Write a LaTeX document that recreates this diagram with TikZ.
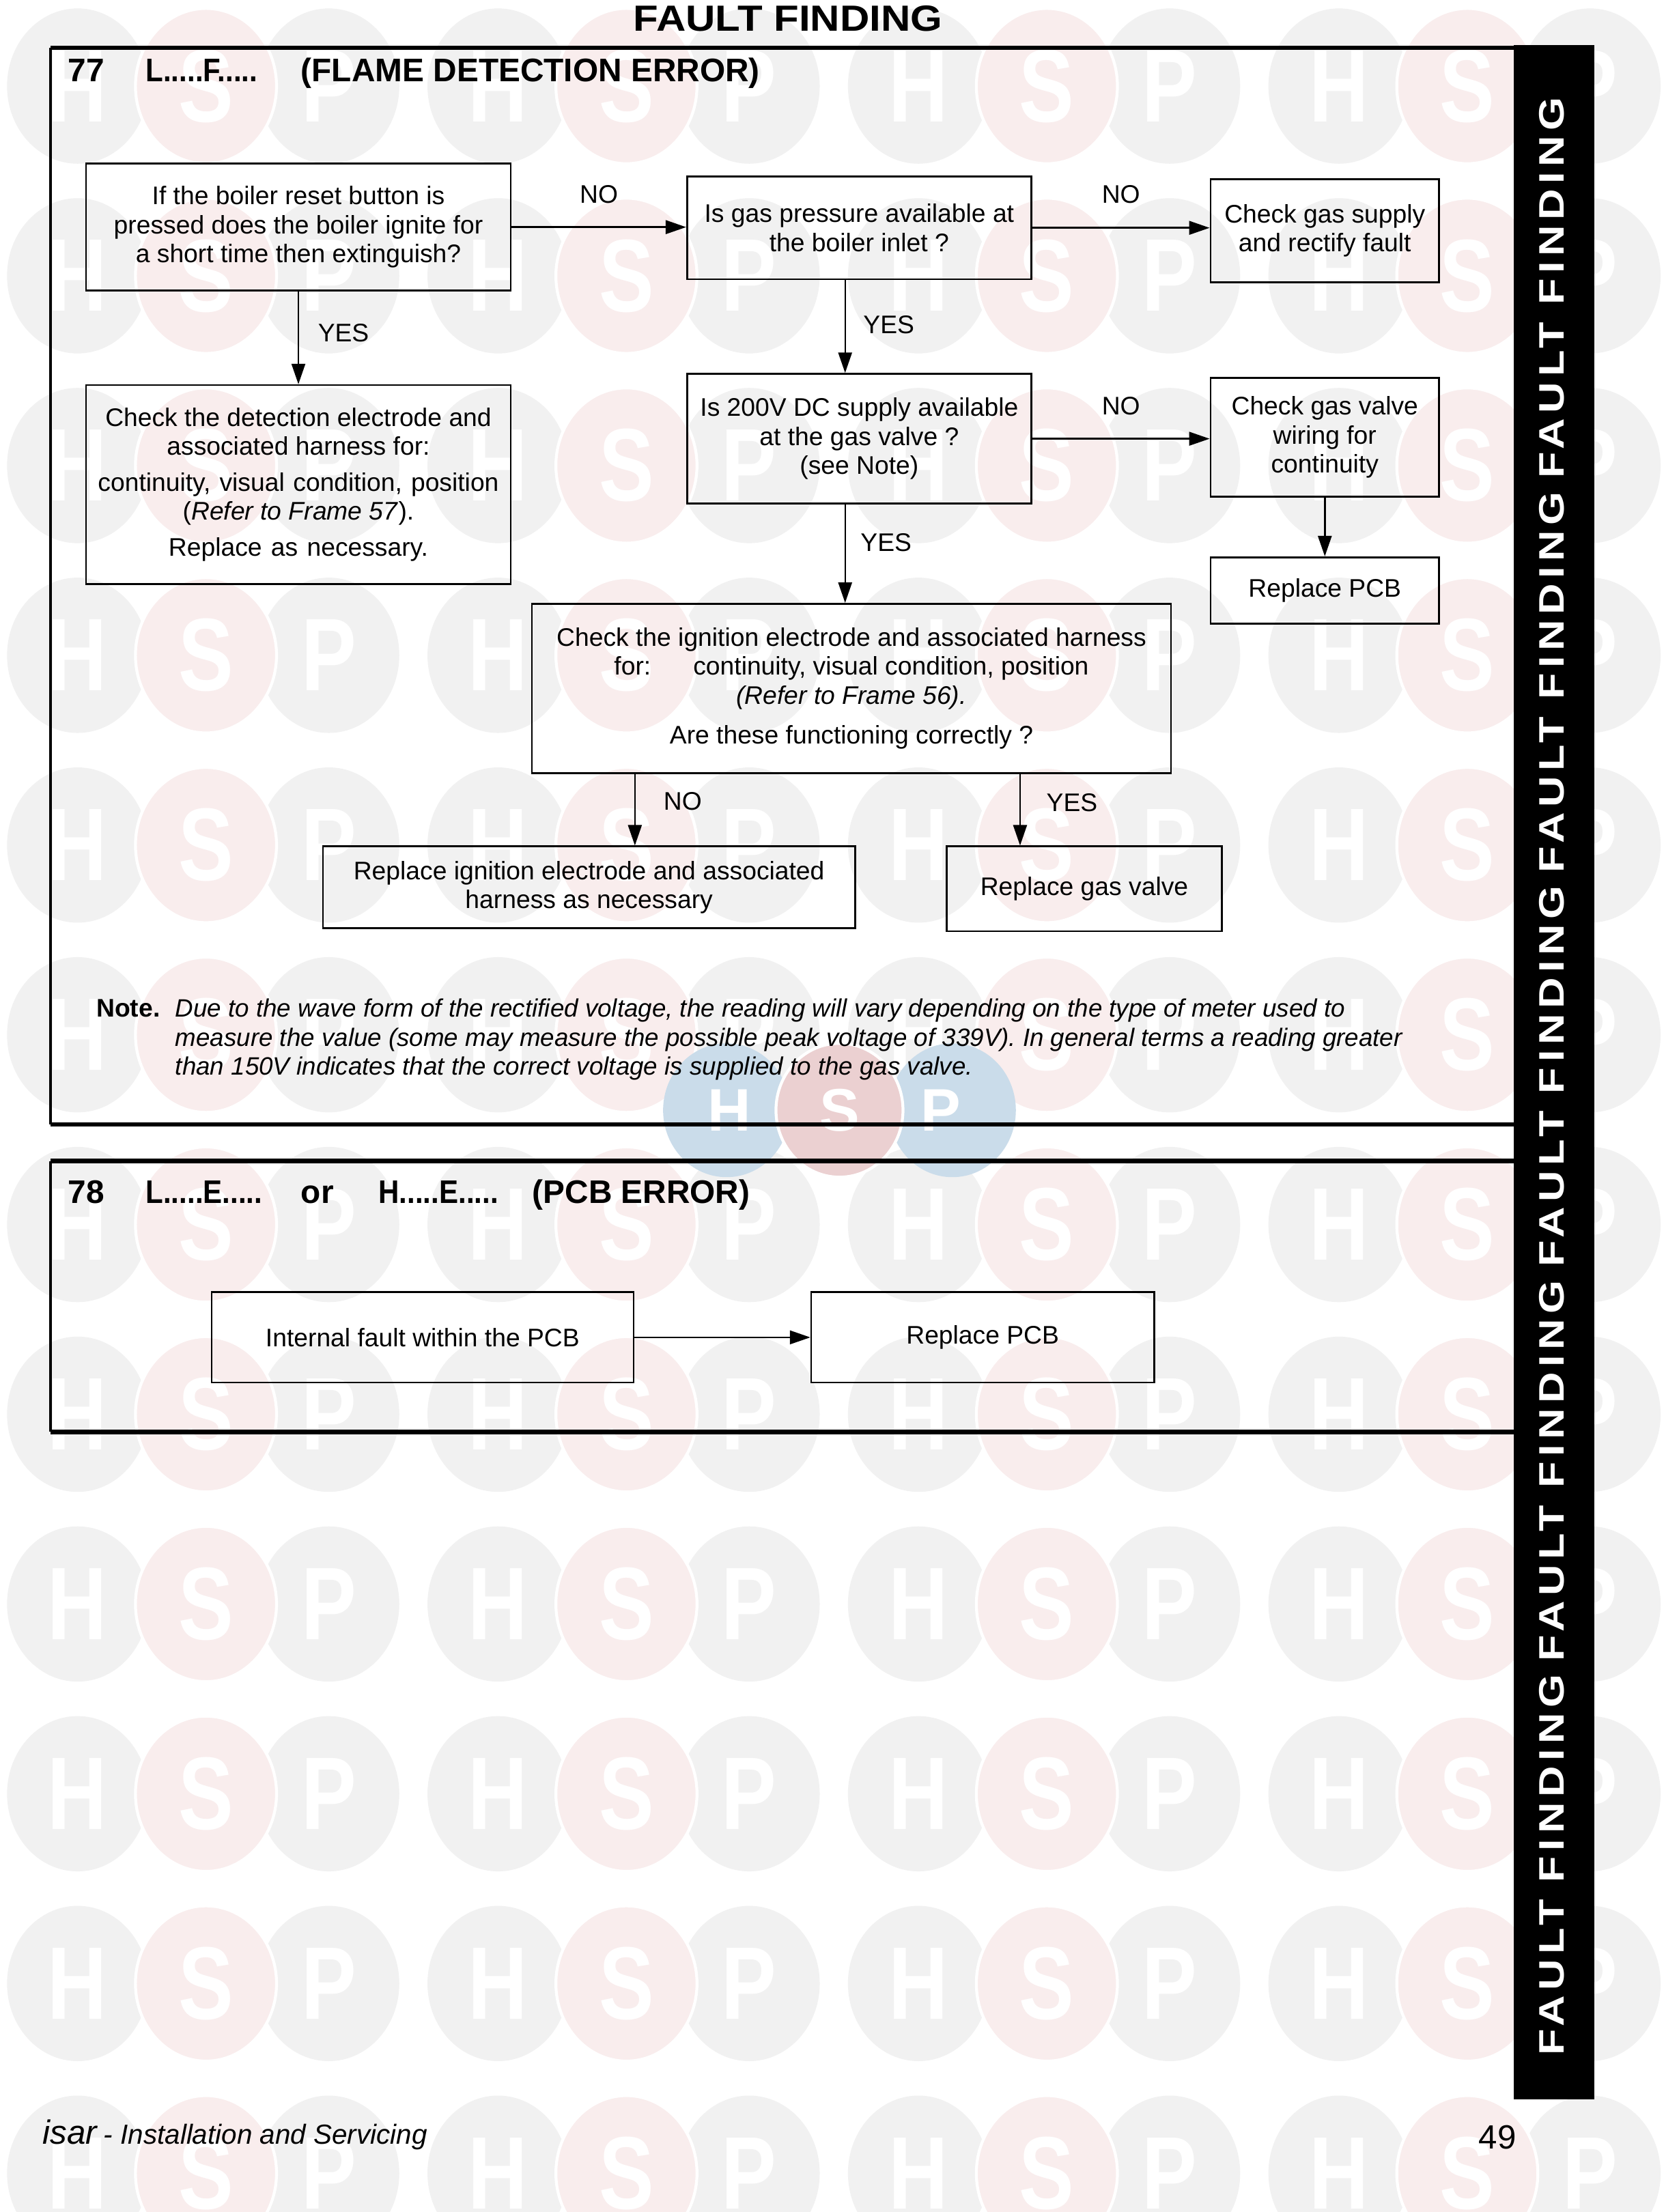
\documentclass[tikz,border=0pt]{standalone}
\usepackage{fontspec}
\usepackage{graphicx}
\setmainfont{Liberation Sans}
\newfontfamily\barfont[LetterSpace=12]{Liberation Sans}
\usetikzlibrary{arrows.meta,positioning,calc}
\definecolor{wmgrey}{HTML}{F1F1F1}
\definecolor{wmpink}{HTML}{F9EDED}
\definecolor{wmblue}{HTML}{CADCEA}
\definecolor{wmred}{HTML}{EBD0D1}
\newcommand\bodyfont{\fontsize{10.6}{12.1}\selectfont}
\newcommand\notefont{\fontsize{10.45}{12.1}\selectfont}
\newcommand\headfont{\fontsize{13.6}{16}\selectfont\bfseries}
\newcommand\wmfont{\fontsize{43}{43}\selectfont\bfseries}
\newcommand\wmsmall{\fontsize{25}{25}\selectfont\bfseries}
\newcommand\squeeze[1]{\scalebox{0.8}[1]{#1}}

\begin{document}
\begin{tikzpicture}[x=0.020664cm,y=-0.020664cm]
\tikzset{
  box/.style={draw,line width=0.75pt,inner sep=0pt,align=center,font=\bodyfont},
  arr/.style={-{Triangle[length=0.30cm,width=0.20cm]},line width=0.7pt},
  lbl/.style={font=\bodyfont,inner sep=0pt},
  frameh/.style={line width=1.8pt},
  framev/.style={line width=1.1pt},
  head/.style={anchor=base west,inner sep=0pt,font=\headfont},
  wmell/.style={x radius=1.033cm,y radius=1.137cm},
  wmlet/.style={text=white,inner sep=0pt,font=\wmfont}
}
\useasboundingbox (0,0) rectangle (1190,1568);
\fill[white] (0,0) rectangle (1190,1568);

% watermark
\foreach \r in {0,...,11}{
  \foreach \g in {0,...,3}{
    \pgfmathsetmacro\wy{61+134.5*\r}
    \pgfmathsetmacro\wx{55+298*\g}
    \fill[wmgrey,wmell] (\wx,\wy) circle;
    \fill[wmgrey,wmell] (\wx+178,\wy) circle;
    \filldraw[fill=wmpink,draw=white,line width=1.2pt,wmell] (\wx+91,\wy) circle;
    \node[wmlet] (wmh-\r-\g) at (\wx,\wy) {\squeeze{H}};
    \node[wmlet] (wms-\r-\g) at (\wx+91,\wy) {\squeeze{S}};
    \node[wmlet] (wmp-\r-\g) at (\wx+178,\wy) {\squeeze{P}};
  }
}
\fill[wmblue,x radius=0.93cm,y radius=0.98cm] (515,787) circle;
\fill[wmblue,x radius=0.93cm,y radius=0.98cm] (675,787) circle;
\filldraw[fill=wmred,draw=white,line width=1.2pt,x radius=0.93cm,y radius=0.98cm] (595,787) circle;
\node[wmlet,font=\wmsmall] (logoh) at (517,787) {H};
\node[wmlet,font=\wmsmall] (logos) at (595,787) {S};
\node[wmlet,font=\wmsmall] (logop) at (667,787) {P};

% side bar
\fill[black] (1073,32) rectangle (1130,1488);
\foreach \k in {0,...,4}
  \node[text=white,inner sep=0pt,rotate=90] (side-\k) at (1100,1322-279.5*\k)
    {\resizebox{5.58cm}{0.362cm}{\barfont\bfseries FAULT FINDING}};

% title
\node[inner sep=0pt] (title) at (558.5,13) {\resizebox{4.525cm}{0.372cm}{\bfseries FAULT FINDING}};

% frame 77
\draw[frameh] (36,34) -- (1073,34);
\draw[framev] (36,34) -- (36,797);
\draw[frameh] (36,797) -- (1073,797);
\node[head] (h77) at (48,58) {77};
\node[head] (h77code) at (103,58) {\scalebox{0.88}[1]{L.....F.....}};
\node[head] (h77name) at (213,58) {(FLAME DETECTION ERROR)};

\node[box,minimum width=6.22cm,minimum height=1.86cm] (qreset) at (211.5,161)
  {If the boiler reset button is\\pressed does the boiler ignite for\\a short time then extinguish?};
\node[box,minimum width=5.042cm,minimum height=1.508cm] (qgas) at (609,161.5)
  {Is gas pressure available at\\the boiler inlet ?};
\node[box,minimum width=3.348cm,minimum height=1.508cm] (chkgas) at (939,163.5)
  {Check gas supply\\and rectify fault};
\node[box,minimum width=6.22cm,minimum height=2.914cm] (chkdet) at (211.5,343.5)
  {Check the detection electrode and\\associated harness for:\\[2.9pt]
   \makebox[5.87cm][s]{continuity, visual condition, position}\\(\textit{Refer to Frame 57}).\\[2.9pt]
   \makebox[3.8cm][s]{Replace as necessary.}};
\node[box,minimum width=5.042cm,minimum height=1.901cm] (qdc) at (609,311)
  {Is 200V DC supply available\\at the gas valve ?\\(see Note)};
\node[box,minimum width=3.348cm,minimum height=1.736cm] (chkwiring) at (939,310)
  {Check gas valve\\wiring for\\continuity};
\node[box,minimum width=3.348cm,minimum height=0.971cm] (pcbA) at (939,418.5) {Replace PCB};
\node[box,minimum width=9.361cm,minimum height=2.48cm] (chkign) at (603.5,488)
  {Check the ignition electrode and associated harness\\
   for:\hspace{0.62cm}continuity, visual condition, position\\
   \textit{(Refer to Frame 56).}\\[4.5pt]
   Are these functioning correctly ?};
\node[box,minimum width=7.79cm,minimum height=1.199cm] (repign) at (417.5,629)
  {Replace ignition electrode and associated\\harness as necessary};
\node[box,minimum width=4.029cm,minimum height=1.24cm] (repvalve) at (768.5,630) {Replace gas valve};

\draw[arr] (qreset.east) -- (qreset.east -| qgas.west) node[lbl,midway,yshift=0.48cm] {NO};
\draw[arr] (qgas.east) -- (qgas.east -| chkgas.west) node[lbl,midway,yshift=0.49cm] {NO};
\draw[arr] (qreset.south) -- (chkdet.north) node[lbl,midway,xshift=0.66cm,yshift=0.07cm] {YES};
\coordinate (gasyes) at ($(qgas.south)+(-10,0)$);
\draw[arr] (gasyes) -- (gasyes |- qdc.north) node[lbl,midway,xshift=0.64cm,yshift=0.03cm] {YES};
\draw[arr] (qdc.east) -- (qdc.east -| chkwiring.west) node[lbl,midway,yshift=0.48cm] {NO};
\draw[arr] (chkwiring) -- (pcbA);
\coordinate (dcyes) at ($(qdc.south)+(-10,0)$);
\draw[arr] (dcyes) -- (dcyes |- chkign.north) node[lbl,midway,xshift=0.60cm,yshift=0.16cm] {YES};
\coordinate (ignno) at ($(chkign.south)+(-153.5,0)$);
\draw[arr] (ignno) -- (ignno |- repign.north) node[lbl,midway,xshift=0.70cm,yshift=0.12cm] {NO};
\coordinate (ignyes) at ($(chkign.south)+(119.5,0)$);
\draw[arr] (ignyes) -- (ignyes |- repvalve.north) node[lbl,midway,xshift=0.76cm,yshift=0.10cm] {YES};

% note (base is the last line)
\node[anchor=base west,inner sep=0pt,font=\bodyfont\bfseries] (notehd) at (68,721) {Note.};
\node[anchor=base west,inner sep=0pt,font=\notefont\itshape,align=left] (notetxt) at (124,762)
  {Due to the wave form of the rectified voltage, the reading will vary depending on the type of meter used to\\
   measure the value (some may measure the possible peak voltage of 339V). In general terms a reading greater\\
   than 150V indicates that the correct voltage is supplied to the gas valve.};

% frame 78
\draw[frameh] (36,823) -- (1073,823);
\draw[framev] (36,823) -- (36,1015);
\draw[frameh] (36,1015) -- (1073,1015);
\node[head] (h78) at (48,853) {78};
\node[head] (h78codeL) at (103,853) {\scalebox{0.88}[1]{L.....E.....}};
\node[head] (h78or) at (213,853) {or};
\node[head] (h78codeH) at (268,853) {\scalebox{0.88}[1]{H.....E.....}};
\node[head] (h78name) at (377,853) {(PCB ERROR)};

\node[box,minimum width=6.179cm,minimum height=1.323cm] (pcbfault) at (299.5,948) {Internal fault within the PCB};
\node[box,minimum width=5.021cm,minimum height=1.323cm] (pcbB) at (696.5,948) {Replace PCB};
\draw[arr] (pcbfault) -- (pcbB);

% footer
\node[anchor=base west,inner sep=0pt] (foot) at (30,1520)
  {{\fontsize{14}{16}\selectfont\itshape isar} {\fontsize{11.5}{14}\selectfont\itshape - Installation and Servicing}};
\node[anchor=base east,inner sep=0pt,font=\fontsize{14}{16}\selectfont] (pageno) at (1075,1523) {49};
\end{tikzpicture}
\end{document}
